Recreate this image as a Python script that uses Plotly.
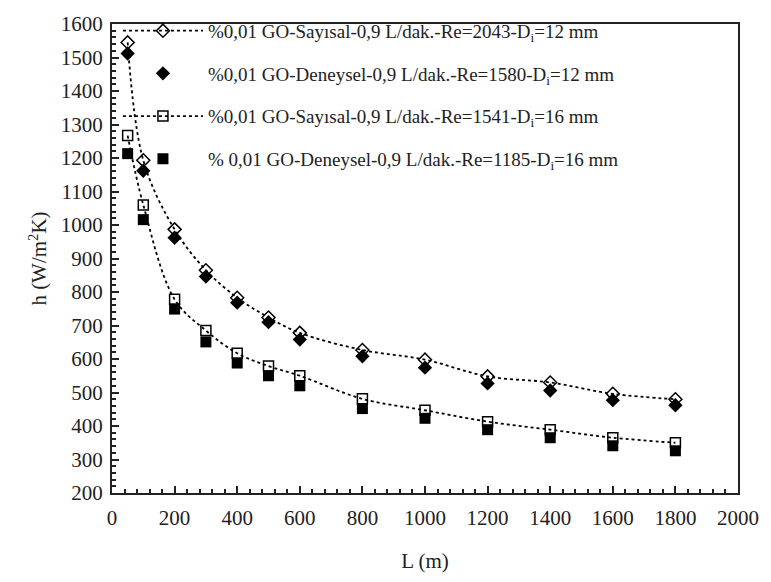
import plotly.graph_objects as go

L = [50, 100, 200, 300, 400, 500, 600, 800, 1000, 1200, 1400, 1600, 1800]
h_say_12 = [1545, 1193, 987, 865, 783, 724, 678, 627, 598, 548, 530, 496, 480]
h_den_12 = [1512, 1162, 962, 846, 768, 710, 658, 608, 574, 527, 506, 477, 462]
h_say_16 = [1267, 1060, 778, 685, 617, 579, 550, 481, 447, 413, 389, 365, 350]
h_den_16 = [1213, 1016, 749, 651, 588, 550, 520, 452, 423, 389, 365, 341, 326]

names = [
    "%0,01 GO-Sayısal-0,9 L/dak.-Re=2043-D<sub>i</sub>=12 mm",
    "%0,01 GO-Deneysel-0,9 L/dak.-Re=1580-D<sub>i</sub>=12 mm",
    "%0,01 GO-Sayısal-0,9 L/dak.-Re=1541-D<sub>i</sub>=16 mm",
    "% 0,01 GO-Deneysel-0,9 L/dak.-Re=1185-D<sub>i</sub>=16 mm",
]

FONT = "Liberation Serif, Times New Roman, serif"

fig = go.Figure()
fig.add_trace(go.Scatter(
    x=L, y=h_say_12, name=names[0], mode="lines+markers", legendgroup="a",
    line=dict(color="black", width=1.8, dash="dot", shape="spline"),
    marker=dict(symbol="diamond-open", size=10, color="black", line=dict(width=1.5)),
))
fig.add_trace(go.Scatter(
    x=L, y=h_den_12, name=names[1], mode="markers", legendgroup="b",
    marker=dict(symbol="diamond", size=11, color="black"),
))
fig.add_trace(go.Scatter(
    x=L, y=h_say_16, name=names[2], mode="lines+markers", legendgroup="c",
    line=dict(color="black", width=1.8, dash="dot", shape="spline"),
    marker=dict(symbol="square-open", size=10, color="black", line=dict(width=1.5)),
))
fig.add_trace(go.Scatter(
    x=L, y=h_den_16, name=names[3], mode="markers", legendgroup="d",
    marker=dict(symbol="square", size=11, color="black"),
))

axis_common = dict(
    showline=True, linecolor="#222", linewidth=2, mirror=True,
    ticks="inside", ticklen=7, tickwidth=2, tickcolor="#222",
    showgrid=False, zeroline=False,
    tickfont=dict(family=FONT, size=21, color="#222"),
)

fig.update_xaxes(
    range=[0, 2000], dtick=200, tick0=0,
    minor=dict(ticks="inside", dtick=40, ticklen=4, tickwidth=1.5, tickcolor="#222"),
    ticklabelstandoff=5,
    title=dict(text="L (m)", font=dict(family=FONT, size=21, color="#222"), standoff=24),
    **axis_common,
)
fig.update_yaxes(
    range=[200, 1600], dtick=100, tick0=200,
    minor=dict(ticks="inside", dtick=20, ticklen=4, tickwidth=1.5, tickcolor="#222"),
    ticklabelstandoff=3,
    title=dict(text="h (W/m<sup>2</sup>K)", font=dict(family=FONT, size=21, color="#222"), standoff=8),
    **axis_common,
)

fig.update_layout(
    width=771, height=582,
    margin=dict(l=112, r=26, t=13, b=89),
    paper_bgcolor="white", plot_bgcolor="white",
    font=dict(family=FONT, color="#222"),
    legend=dict(
        x=0.0095, y=1.026, xanchor="left", yanchor="top",
        bgcolor="rgba(0,0,0,0)", borderwidth=0,
        font=dict(family=FONT, size=19, color="#222"),
        tracegroupgap=15, itemwidth=80,
    ),
    showlegend=True,
)

fig.write_html("out.html")
